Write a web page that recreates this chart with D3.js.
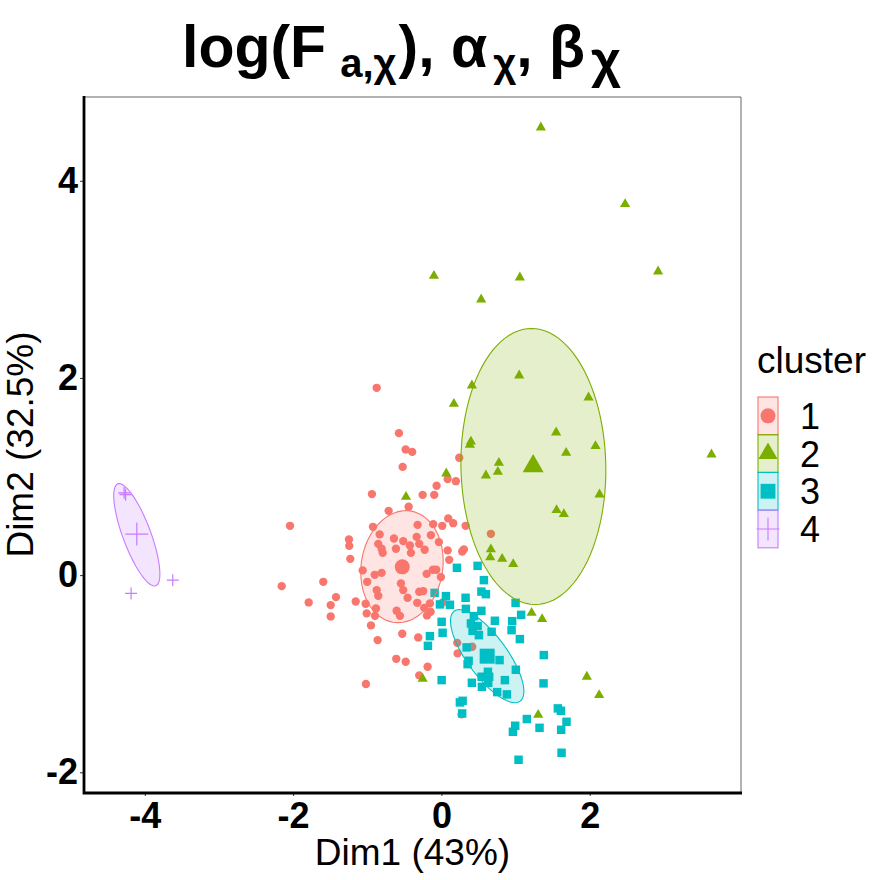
<!DOCTYPE html>
<html>
<head>
<meta charset="utf-8">
<script src="https://cdn.jsdelivr.net/npm/d3@7"></script>
<style>
  body { margin: 0; background: #fff; }
  svg { font-family: "Liberation Sans", Arial, Helvetica, sans-serif; }
  .tick text { font-size: 36px; font-weight: bold; fill: #000; }
  .tick line { stroke: #333; }
</style>
</head>
<body>
<script>
var clusters = ["1", "2", "3", "4"];
var colors = ["#F8766D", "#7CAE00", "#00BFC4", "#C77CFF"];
var xTicks = [-4, -2, 0, 2];
var yTicks = [-2, 0, 2, 4];

// individuals per cluster, [Dim1, Dim2]
var pts1 = [[-0.873,1.900],[-0.573,1.440],[-0.482,1.275],[-0.394,1.250],[-0.523,1.098],[-0.937,0.822],
  [-0.253,0.814],[-0.097,0.814],[-0.065,0.906],[0.084,0.974],[0.195,0.953],[0.240,1.190],[-0.442,0.693],
  [-0.712,0.652],[-2.042,0.500],[-0.923,0.490],[-0.321,0.510],[-0.111,0.517],[0.011,0.500],[0.092,0.575],
  [0.159,0.527],[0.326,0.500],[-0.833,0.413],[-0.640,0.372],[-0.334,0.388],[-0.142,0.406],[-1.247,0.362],
  [-1.243,0.297],[-0.852,0.317],[-0.806,0.267],[-0.792,0.226],[-0.515,0.345],[-0.425,0.301],[-0.299,0.317],
  [-0.613,0.267],[-0.411,0.226],[-0.226,0.257],[-0.034,0.335],[0.084,0.251],[0.280,0.240],[0.303,0.261],
  [-1.229,0.165],[0.105,0.155],[-1.062,0.048],[-0.899,0.003],[-0.806,0.023],[-0.199,0.013],[-0.115,0.054],
  [-0.070,0.054],[-0.007,-0.020],[-1.593,-0.068],[-2.154,-0.112],[-1.000,-0.068],[-0.546,-0.084],[-0.515,-0.152],
  [-0.873,-0.152],[-0.852,-0.210],[-1.422,-0.223],[-1.790,-0.277],[-1.493,-0.304],[-1.156,-0.267],[-1.022,-0.291],
  [-0.456,-0.230],[-0.299,-0.169],[-0.245,-0.162],[-0.326,-0.281],[-0.155,-0.287],[-0.232,-0.332],[-0.146,-0.372],
  [-0.195,-0.409],[-1.493,-0.419],[-0.883,-0.338],[-1.008,-0.388],[-0.896,-0.413],[-0.604,-0.362],[-0.559,-0.413],
  [-0.950,-0.510],[-0.528,-0.595],[-0.313,-0.632],[-0.860,-0.659],[-0.609,-0.849],[-0.482,-0.879],[-0.186,-0.930],
  [-0.299,-1.017],[-1.018,-1.105],[0.667,0.419],[0.016,-0.277],[0.213,-0.687],[0.415,-0.727],[0.218,-0.794],
  [0.272,-1.413]];
var pts2 = [[1.341,4.541],[2.477,3.763],[-0.101,3.035],[1.058,3.019],[2.922,3.080],[0.536,2.796],[1.049,2.025],
  [0.411,1.924],[0.168,1.737],[1.984,1.802],[1.547,1.447],[0.384,1.322],[0.398,1.354],[2.078,1.308],[1.682,1.240],
  [0.775,1.139],[0.761,1.048],[0.600,1.011],[0.065,1.031],[3.642,1.224],[2.132,0.818],[1.553,0.659],[1.651,0.619],
  [0.667,0.261],[0.658,0.180],[0.819,0.165],[0.968,0.112],[1.216,-0.382],[1.358,-0.446],[-0.253,-1.052],
  [1.305,-1.417],[1.961,-1.031],[2.127,-1.217],[-0.478,0.794]];
var pts3 = [[0.209,0.074],[0.488,0.094],[0.573,-0.051],[0.539,-0.167],[0.600,-0.193],[-0.092,-0.180],[0.061,-0.213],
  [-0.020,-0.297],[0.115,-0.301],[0.326,-0.230],[0.330,-0.342],[0.539,-0.362],[1.000,-0.281],[1.075,-0.403],
  [0.438,-0.416],[0.398,-0.490],[0.488,-0.517],[0.420,-0.565],[0.505,-0.609],[0.721,-0.463],[0.954,-0.467],
  [0.946,-0.558],[0.677,-0.575],[0.003,-0.474],[0.016,-0.585],[-0.155,-0.619],[-0.182,-0.717],[1.058,-0.649],
  [0.340,-0.733],[0.784,-0.862],[0.367,-0.869],[0.353,-0.903],[1.381,-0.811],[1.004,-0.960],[0.627,-0.981],
  [0.644,-1.031],[0.542,-1.031],[0.631,-1.092],[0.546,-1.133],[0.411,-1.092],[0.856,-1.065],[0.003,-1.065],
  [1.377,-1.098],[0.752,-1.187],[0.883,-1.210],[0.249,-1.291],[0.286,-1.275],[0.280,-1.403],[1.570,-1.352],
  [1.611,-1.376],[1.687,-1.488],[1.152,-1.460],[0.995,-1.528],[0.964,-1.589],[1.323,-1.549],[1.615,-1.569],
  [1.620,-1.802],[1.040,-1.873]];
var pts4 = [[-4.279,0.835],[-4.259,0.816],[-3.623,-0.051],[-4.185,-0.186]];

// cluster centres
var centers = [[-0.528,0.084],[1.237,1.105],[0.617,-0.822],[-4.108,0.416]];
// confidence ellipses: centre, two conjugate semi-diameters (data units)
var ellCenter = [[-0.532,0.086],[1.240,1.102],[0.617,-0.822],[-4.108,0.409]];
var ellU = [[0.054,0.568],[-0.025,1.400],[-0.445,0.456],[-0.256,0.517]];
var ellV = [[0.553,0.0],[0.977,0.0],[0.216,0.122],[0.177,0.049]];

var W = 888, H = 880;
var svg = d3.select("body").append("svg").attr("width", W).attr("height", H);

var x = d3.scaleLinear().domain([-4.82, 4.04]).range([84, 741]);
var y = d3.scaleLinear().domain([-2.2, 4.85]).range([792, 97]);

// thin "+" symbol like R pch 3
var plus = {
  draw: function(ctx, size) {
    var r = Math.sqrt(size) / 2;
    ctx.moveTo(-r, 0); ctx.lineTo(r, 0);
    ctx.moveTo(0, -r); ctx.lineTo(0, r);
  }
};
var shapes = [d3.symbolCircle, d3.symbolTriangle, d3.symbolSquare, plus];
var smallSize = [55, 45, 72, 144];
var bigSize = [177, 190, 225, 529];

function drawMarks(g, data, i, size) {
  g.selectAll(null).data(data).enter().append("path")
    .attr("transform", function(d) { return "translate(" + x(d[0]) + "," + y(d[1]) + ")"; })
    .attr("d", d3.symbol().type(shapes[i]).size(size))
    .attr("fill", i == 3 ? "none" : colors[i])
    .attr("stroke", i == 3 ? colors[i] : "none")
    .attr("stroke-width", 1.2);
}

var plot = svg.append("g");
var allPts = [pts1, pts2, pts3, pts4];
allPts.forEach(function(p, i) { drawMarks(plot, p, i, smallSize[i]); });
centers.forEach(function(c, i) { drawMarks(plot, [c], i, bigSize[i]); });

// ellipses drawn on top, semi-transparent
var tt = d3.range(0, 101).map(function(k) { return k / 100 * 2 * Math.PI; });
clusters.forEach(function(c, i) {
  var line = d3.line()
    .x(function(t) { return x(ellCenter[i][0] + ellU[i][0] * Math.cos(t) + ellV[i][0] * Math.sin(t)); })
    .y(function(t) { return y(ellCenter[i][1] + ellU[i][1] * Math.cos(t) + ellV[i][1] * Math.sin(t)); });
  plot.append("path").attr("d", line(tt) + "Z")
    .attr("fill", colors[i]).attr("fill-opacity", 0.2)
    .attr("stroke", colors[i]).attr("stroke-width", 1.1);
});

// panel border (top / right thin grey)
svg.append("path")
  .attr("d", "M84,97H741V792")
  .attr("fill", "none").attr("stroke", "#666").attr("stroke-width", 1);

// axes
var xAxis = svg.append("g").attr("transform", "translate(0,792)")
  .call(d3.axisBottom(x).tickValues(xTicks).tickSize(4).tickPadding(6).tickFormat(function(d) { return String(d); }));
var yAxis = svg.append("g").attr("transform", "translate(84,0)")
  .call(d3.axisLeft(y).tickValues(yTicks).tickSize(4).tickPadding(2).tickFormat(function(d) { return String(d); }));
[xAxis, yAxis].forEach(function(a) {
  a.select(".domain").remove();
});
svg.append("path").attr("d", "M84,96V793H742")
  .attr("fill", "none").attr("stroke", "#000").attr("stroke-width", 2.8);

// axis titles
svg.append("text").attr("x", 412.5).attr("y", 865).attr("text-anchor", "middle")
  .attr("font-size", 37).text("Dim1 (43%)");
svg.append("text").attr("transform", "translate(33,444.5) rotate(-90)").attr("text-anchor", "middle")
  .attr("font-size", 37).text("Dim2 (32.5%)");

// title with subscripts
var title = svg.append("text").attr("x", 182).attr("y", 67)
  .attr("font-size", 59).attr("font-weight", "bold");
title.append("tspan").text("log(F");
title.append("tspan").attr("font-size", 40).attr("dx", 14).attr("dy", 10).text("a,χ");
title.append("tspan").attr("dy", -10).attr("dx", 2).text("), α");
title.append("tspan").attr("font-size", 40).attr("dx", 6).attr("dy", 10).text("χ");
title.append("tspan").attr("dy", -10).text(", β");
title.append("tspan").attr("font-size", 52).attr("dx", 6).attr("dy", 10).text("χ");

// legend
var leg = svg.append("g");
leg.append("text").attr("x", 757).attr("y", 373).attr("font-size", 37).text("cluster");
var keyH = 37.7;
clusters.forEach(function(c, i) {
  var ky = 397 + i * keyH;
  leg.append("rect").attr("x", 758).attr("y", ky).attr("width", 20).attr("height", keyH)
    .attr("fill", colors[i]).attr("fill-opacity", 0.2)
    .attr("stroke", colors[i]).attr("stroke-width", 1.1);
  leg.append("path")
    .attr("transform", "translate(768," + (ky + keyH / 2) + ")")
    .attr("d", d3.symbol().type(shapes[i]).size([177, 160, 220, 529][i]))
    .attr("fill", i == 3 ? "none" : colors[i])
    .attr("stroke", i == 3 ? colors[i] : "none")
    .attr("stroke-width", 1.1);
  leg.append("text").attr("x", 800).attr("y", ky + keyH / 2 + 13)
    .attr("font-size", 36).text(c);
});
</script>
</body>
</html>
